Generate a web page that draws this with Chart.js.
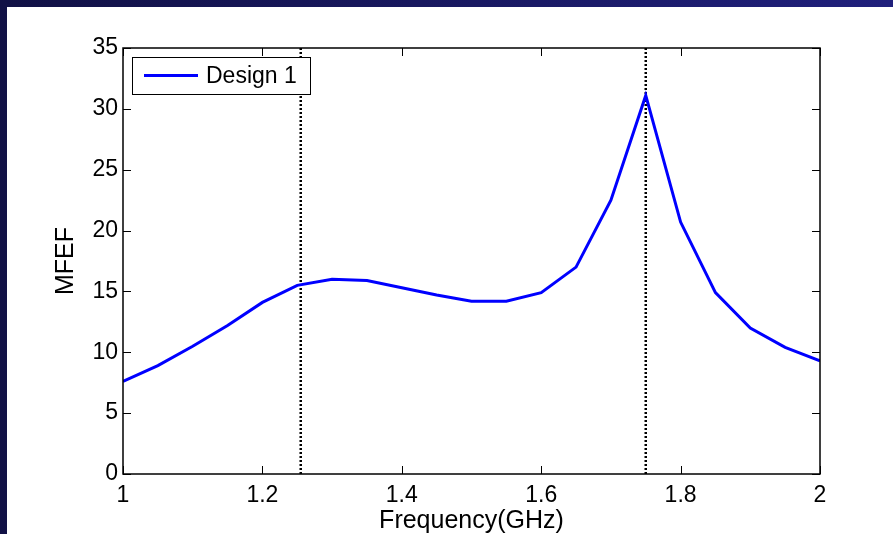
<!DOCTYPE html>
<html>
<head>
<meta charset="utf-8">
<script src="https://cdn.jsdelivr.net/npm/chart.js@4/dist/chart.umd.min.js"></script>
<style>
  html, body {
    margin: 0;
    padding: 0;
    width: 893px;
    height: 534px;
    overflow: hidden;
    background: linear-gradient(to right, #111145, #20207c);
  }
  #wrap {
    position: absolute;
    left: 7px;
    top: 7px;
    right: 0;
    bottom: 0;
    background: #ffffff;
  }
</style>
</head>
<body>
<div id="wrap"><canvas id="chart"></canvas></div>
<script>
// Frequency sweep (GHz) and the MFEF response of the design
const frequencies = [1.00, 1.05, 1.10, 1.15, 1.20, 1.25, 1.30, 1.35, 1.40, 1.45, 1.50,
                     1.55, 1.60, 1.65, 1.70, 1.75, 1.80, 1.85, 1.90, 1.95, 2.00];
const mfef = [7.6, 8.9, 10.5, 12.2, 14.1, 15.5, 16.0, 15.9, 15.3, 14.7, 14.2,
              14.2, 14.9, 17.0, 22.5, 31.1, 20.7, 14.9, 12.0, 10.4, 9.3];
const seriesName = 'Design 1';

// Dotted reference frequencies
const markerFrequencies = [1.255, 1.75];

// Axis ticks
const xTickValues = [1, 1.2, 1.4, 1.6, 1.8, 2];
const yTickValues = [0, 5, 10, 15, 20, 25, 30, 35];

const FONT = '"Liberation Sans", Arial, Helvetica, sans-serif';
const FONT_SIZE = 23;
const TITLE_SIZE = 25;

const curve = frequencies.map((f, i) => ({ x: f, y: mfef[i] }));
const yMin = yTickValues[0];
const yMax = yTickValues[yTickValues.length - 1];

const markerSets = markerFrequencies.map(f => ({
  label: 'marker',
  data: [{ x: f, y: yMin }, { x: f, y: yMax }],
  borderColor: '#000000',
  borderWidth: 2.5,
  borderDash: [2, 2],
  pointRadius: 0,
  fill: false
}));

// Box frame, inward ticks on all four sides, and the legend box
const matlabFrame = {
  id: 'matlabFrame',
  afterDatasetsDraw(chart) {
    const { ctx, chartArea: a, scales } = chart;
    const xs = scales.x, ys = scales.y;
    const tl = 8;
    ctx.save();
    ctx.strokeStyle = '#000000';
    ctx.lineWidth = 1;
    ctx.beginPath();
    xTickValues.forEach(v => {
      const px = Math.round(xs.getPixelForValue(v)) + 0.5;
      ctx.moveTo(px, a.bottom); ctx.lineTo(px, a.bottom - tl);
      ctx.moveTo(px, a.top); ctx.lineTo(px, a.top + tl);
    });
    yTickValues.forEach(v => {
      const py = Math.round(ys.getPixelForValue(v)) + 0.5;
      ctx.moveTo(a.left, py); ctx.lineTo(a.left + tl, py);
      ctx.moveTo(a.right, py); ctx.lineTo(a.right - tl, py);
    });
    ctx.stroke();
    ctx.lineWidth = 1.5;
    ctx.strokeRect(a.left, a.top, a.right - a.left, a.bottom - a.top);

    // legend
    const ds = chart.data.datasets[0];
    const bx = 125, by = 50, bw = 178, bh = 37;
    ctx.fillStyle = '#ffffff';
    ctx.fillRect(bx, by, bw, bh);
    ctx.lineWidth = 1;
    ctx.strokeRect(bx + 0.5, by + 0.5, bw, bh);
    const midY = by + bh / 2;
    ctx.strokeStyle = ds.borderColor;
    ctx.lineWidth = ds.borderWidth;
    ctx.beginPath();
    ctx.moveTo(bx + 12, midY); ctx.lineTo(bx + 66, midY);
    ctx.stroke();
    ctx.fillStyle = '#000000';
    ctx.font = FONT_SIZE + 'px ' + FONT;
    ctx.textBaseline = 'middle';
    ctx.textAlign = 'left';
    ctx.fillText(ds.label, bx + 74, midY + 1);
    ctx.restore();
  }
};

new Chart(document.getElementById('chart'), {
  type: 'line',
  data: {
    datasets: [
      {
        label: seriesName,
        data: curve,
        borderColor: '#0000ff',
        borderWidth: 3,
        pointRadius: 0,
        tension: 0,
        fill: false
      },
      ...markerSets
    ]
  },
  options: {
    responsive: true,
    maintainAspectRatio: false,
    animation: false,
    events: [],
    layout: { padding: { left: 0, right: 73, top: 41, bottom: 0 } },
    plugins: {
      legend: { display: false },
      tooltip: { enabled: false }
    },
    scales: {
      x: {
        type: 'linear',
        min: xTickValues[0],
        max: xTickValues[xTickValues.length - 1],
        afterBuildTicks: s => { s.ticks = xTickValues.map(v => ({ value: v })); },
        afterFit: s => { s.height = 60; },
        grid: { display: false, drawTicks: false },
        border: { display: false },
        ticks: {
          color: '#000000',
          padding: 8,
          maxRotation: 0,
          font: { family: FONT, size: FONT_SIZE },
          callback: v => String(v)
        },
        title: {
          display: true,
          text: 'Frequency(GHz)',
          color: '#000000',
          font: { family: FONT, size: TITLE_SIZE, lineHeight: 1 },
          padding: { top: 0, bottom: 0 }
        }
      },
      y: {
        type: 'linear',
        min: yMin,
        max: yMax,
        afterBuildTicks: s => { s.ticks = yTickValues.map(v => ({ value: v })); },
        afterFit: s => { s.width = 116; },
        grid: { display: false, drawTicks: false },
        border: { display: false },
        ticks: {
          color: '#000000',
          padding: 5,
          font: { family: FONT, size: FONT_SIZE },
          callback: v => String(v)
        },
        title: {
          display: true,
          text: 'MFEF',
          color: '#000000',
          font: { family: FONT, size: TITLE_SIZE, lineHeight: 1 },
          padding: { top: 47, bottom: 0 }
        }
      }
    }
  },
  plugins: [matlabFrame]
});
</script>
</body>
</html>
